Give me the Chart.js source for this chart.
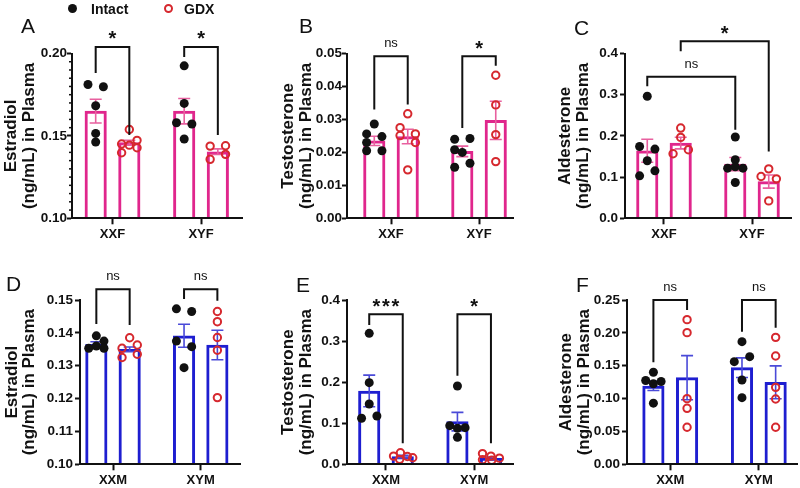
<!DOCTYPE html>
<html>
<head>
<meta charset="utf-8">
<script src="https://cdn.jsdelivr.net/npm/chart.js@4.4.1/dist/chart.umd.min.js"></script>
<style>
  body { margin: 0; background: #fff; }
  #wrap { position: relative; width: 800px; height: 488px; overflow: hidden; font-family: "Liberation Sans", Arial, sans-serif; color: #111; }
  canvas { position: absolute; }
  .letter { position: absolute; font-size: 21px; line-height: 21px; }
  .leg { position: absolute; font-size: 14px; line-height: 14px; font-weight: bold; }
  .mark { position: absolute; width: 9px; height: 9px; border-radius: 50%; box-sizing: border-box; }
</style>
</head>
<body>
<div id="wrap">
  <canvas id="cA" width="265" height="244"></canvas>
  <canvas id="cB" width="265" height="244"></canvas>
  <canvas id="cC" width="270" height="244"></canvas>
  <canvas id="cD" width="265" height="244"></canvas>
  <canvas id="cE" width="265" height="244"></canvas>
  <canvas id="cF" width="270" height="244"></canvas>

  <div class="mark" style="left:68px;top:4px;background:#111"></div>
  <div class="leg" style="left:91px;top:2px">Intact</div>
  <div class="mark" style="left:164px;top:4px;border:2px solid #d6282e"></div>
  <div class="leg" style="left:184px;top:2px">GDX</div>

  <div class="letter" style="left:21px;top:15px">A</div>
  <div class="letter" style="left:299px;top:15px">B</div>
  <div class="letter" style="left:574px;top:17px">C</div>
  <div class="letter" style="left:6px;top:273px">D</div>
  <div class="letter" style="left:296px;top:274px">E</div>
  <div class="letter" style="left:576px;top:274px">F</div>
</div>

<script>
Chart.defaults.font.family = "'Liberation Sans', Arial, Helvetica, sans-serif";
Chart.defaults.color = '#111';

// groups on the x axis
var femaleGroups = ['XXF', 'XYF'];
var maleGroups = ['XXM', 'XYM'];

// A - estradiol, females. [group][point]; slot = beeswarm column of each point
var aIntact = [[0.1812, 0.1798, 0.1683, 0.1515, 0.1463], [0.1925, 0.1697, 0.1580, 0.1572, 0.1481]];
var aIntactSlot = [[-1, 1, 0, 0, 0], [0, 0, -1, 1, 0]];
var aGdx = [[0.1539, 0.1451, 0.1444, 0.1473, 0.1398, 0.1428], [0.1438, 0.1440, 0.1358, 0.1388]];
var aGdxSlot = [[0, -1, 0, 1, -1, 1], [-1, 1, -1, 1]];
var aMean = [[0.1650, 0.1459], [0.1650, 0.1404]];   // [group][intact, gdx]
var aSem = [[0.0072, 0.0015], [0.0077, 0.0017]];
var aTicks = [0.10, 0.15, 0.20];
// [group, series, group, series, leg from, leg to, top, label]
var aSig = [[0, 0, 0, 1, 0.1882, 0.1505, 0.2040, '*'], [1, 0, 1, 1, 0.1979, 0.1505, 0.2040, '*']];

// B - testosterone, females
var bIntact = [[0.0286, 0.0256, 0.0248, 0.0230, 0.0205, 0.0205], [0.0242, 0.0240, 0.0208, 0.0200, 0.0167, 0.0155]];
var bIntactSlot = [[0, -1, 1, -1, -1, 1], [1, -1, -1, 0, 1, -1]];
var bGdx = [[0.0317, 0.0275, 0.0256, 0.0251, 0.0230, 0.0147], [0.0434, 0.0344, 0.0254, 0.0172]];
var bGdxSlot = [[0, -1, 1, -1, 1, 0], [0, 0, 0, 0]];
var bMean = [[0.0235, 0.0248], [0.0203, 0.0297]];
var bSem = [[0.0014, 0.0022], [0.0016, 0.0058]];
var bTicks = [0, 0.01, 0.02, 0.03, 0.04, 0.05];
var bSig = [[0, 0, 0, 1, 0.0330, 0.0345, 0.0492, 'ns'], [1, 0, 1, 1, 0.0274, 0.0463, 0.0492, '*']];

// C - aldosterone, females
var cIntact = [[0.2961, 0.1744, 0.1680, 0.1396, 0.1152, 0.1030], [0.1972, 0.1420, 0.1217, 0.1250, 0.1217, 0.0868]];
var cIntactSlot = [[0, -1, 1, 0, 1, -1], [0, 0, -1, 0, 1, 0]];
var cGdx = [[0.2190, 0.1963, 0.1566, 0.1663], [0.1200, 0.1014, 0.0957, 0.0422]];
var cGdxSlot = [[0, 0, -1, 1], [0, -1, 1, 0]];
var cMean = [[0.1639, 0.1826], [0.1314, 0.0892]];
var cSem = [[0.028, 0.014], [0.016, 0.016]];
var cTicks = [0, 0.1, 0.2, 0.3, 0.4];
var cSig = [[0, 0, 1, 0, 0.3204, 0.2150, 0.3433, 'ns'], [0, 1, 1, 1, 0.4056, 0.1622, 0.4300, '*']];

// D - estradiol, males
var dIntact = [[0.1391, 0.1375, 0.1360, 0.1353, 0.1353], [0.1473, 0.1465, 0.1375, 0.1358, 0.1294]];
var dIntactSlot = [[0, 1, 0, -1, 1], [-1, 1, -1, 1, 0]];
var dGdx = [[0.1385, 0.1363, 0.1353, 0.1335, 0.1325], [0.1465, 0.1434, 0.1386, 0.1347, 0.1203]];
var dGdxSlot = [[0, 1, -1, 1, -1], [0, 0, 0, 0, 0]];
var dMean = [[0.1365, 0.1350], [0.1391, 0.1363]];
var dSem = [[0.0008, 0.0007], [0.0035, 0.0045]];
var dTicks = [0.10, 0.11, 0.12, 0.13, 0.14, 0.15];
var dSig = [[0, 0, 0, 1, 0.1427, 0.1424, 0.1533, 'ns'], [1, 0, 1, 1, 0.1503, 0.1498, 0.1533, 'ns']];

// E - testosterone, males
var eIntact = [[0.3189, 0.1988, 0.1469, 0.1176, 0.1120], [0.1907, 0.0941, 0.0892, 0.0876, 0.0657]];
var eIntactSlot = [[0, 0, 0, 1, -1], [0, -1, 1, 0, 0]];
var eGdx = [[0.028, 0.020, 0.019, 0.016, 0.012], [0.026, 0.020, 0.015, 0.011, 0.010]];
var eGdxSlot = [[-0.3, -1.2, 0.6, 1.3, -0.4], [-1.1, 0, 1.1, -1.1, 0.1]];
var eMean = [[0.1785, 0.0187], [0.1039, 0.0146]];
var eSem = [[0.0385, 0.003], [0.0225, 0.003]];
var eTicks = [0, 0.1, 0.2, 0.3, 0.4];
var eSig = [[0, 0, 0, 1, 0.3391, 0.0511, 0.3652, '***'], [1, 0, 1, 1, 0.2157, 0.0511, 0.3652, '*']];

// F - aldosterone, males
var fIntact = [[0.1400, 0.1275, 0.1260, 0.1225, 0.0930], [0.1866, 0.1638, 0.1562, 0.1283, 0.1014]];
var fIntactSlot = [[0, -1, 1, 0, 0], [0, 1, -1, 0, 0]];
var fGdx = [[0.2201, 0.2003, 0.0999, 0.0852, 0.0563], [0.1932, 0.1648, 0.1171, 0.0994, 0.0563]];
var fGdxSlot = [[0, 0, 0, 0, 0], [0, 0, 0, 0, 0]];
var fMean = [[0.1192, 0.1318], [0.1470, 0.1247]];
var fSem = [[0.007, 0.0335], [0.015, 0.025]];
var fTicks = [0, 0.05, 0.10, 0.15, 0.20, 0.25];
var fSig = [[0, 0, 0, 1, 0.1552, 0.2348, 0.25, 'ns'], [1, 0, 1, 1, 0.2018, 0.2079, 0.25, 'ns']];

var PINK = '#e0268c', PINK_ERR = '#e8609f';
var BLUE = '#1e1ed0', BLUE_ERR = '#4a4ad8';
var RED = '#d6282e', INK = '#111';
var OFF = 0.19;    // bar centre offset from the group tick, x units
var SLOT = 0.087;  // width of one beeswarm column, x units

function points(vals, slots, side) {
  var out = [];
  vals.forEach(function (list, g) {
    list.forEach(function (v, k) {
      out.push({ x: g + 1 + side * OFF + slots[g][k] * SLOT, y: v });
    });
  });
  return out;
}

function decor(p) {
  return {
    id: 'decor',
    afterDatasetDraw: function (chart, args) {
      if (args.meta.type !== 'bar') return;
      var s = chart.data.datasets[args.index].series;
      var ctx = chart.ctx, y = chart.scales.y;
      ctx.save();
      ctx.strokeStyle = p.errColor;
      ctx.lineWidth = 1.6;
      args.meta.data.forEach(function (bar, g) {
        var m = p.mean[g][s], e = p.sem[g][s];
        var y1 = y.getPixelForValue(m + e), y0 = y.getPixelForValue(m - e);
        ctx.beginPath();
        ctx.moveTo(bar.x, y0); ctx.lineTo(bar.x, y1);
        ctx.moveTo(bar.x - 6, y1); ctx.lineTo(bar.x + 6, y1);
        ctx.moveTo(bar.x - 6, y0); ctx.lineTo(bar.x + 6, y0);
        ctx.stroke();
      });
      ctx.restore();
    },
    afterDraw: function (chart) {
      var ctx = chart.ctx, x = chart.scales.x, y = chart.scales.y, area = chart.chartArea;
      ctx.save();
      ctx.strokeStyle = INK;
      if (p.minor) {
        ctx.lineWidth = 1.5;
        for (var v = p.yMin + p.minor; v < p.yMax - 1e-9; v += p.minor) {
          var major = p.ticks.some(function (t) { return Math.abs(t - v) < 1e-9; });
          if (major) continue;
          var py = y.getPixelForValue(v);
          ctx.beginPath(); ctx.moveTo(area.left - 3, py); ctx.lineTo(area.left, py); ctx.stroke();
        }
      }
      ctx.lineWidth = 2;
      ctx.fillStyle = INK;
      ctx.textAlign = 'center';
      ctx.textBaseline = 'alphabetic';
      p.sig.forEach(function (b) {
        var xa = x.getPixelForValue(b[0] + 1 + (b[1] ? OFF : -OFF));
        var xb = x.getPixelForValue(b[2] + 1 + (b[3] ? OFF : -OFF));
        var yt = y.getPixelForValue(b[6]);
        ctx.beginPath();
        ctx.moveTo(xa, y.getPixelForValue(b[4]));
        ctx.lineTo(xa, yt);
        ctx.lineTo(xb, yt);
        ctx.lineTo(xb, y.getPixelForValue(b[5]));
        ctx.stroke();
        var cx = (xa + xb) / 2;
        if (b[7].charAt(0) === '*') {
          ctx.font = "bold 20px 'Liberation Sans', Arial, sans-serif";
          var n = b[7].length, step = 9.5;
          for (var i = 0; i < n; i++) ctx.fillText('*', cx + (i - (n - 1) / 2) * step, yt - 1.5);
        } else {
          ctx.font = "13px 'Liberation Sans', Arial, sans-serif";
          ctx.fillText(b[7], cx, yt - 9);
        }
      });
      ctx.restore();
    }
  };
}

function panel(id, p) {
  var box = p.box, area = p.area;
  var cv = document.getElementById(id);
  cv.style.left = box[0] + 'px';
  cv.style.top = box[1] + 'px';
  var barI = p.mean.map(function (m, g) { return { x: g + 1 - OFF, y: m[0] }; });
  var barG = p.mean.map(function (m, g) { return { x: g + 1 + OFF, y: m[1] }; });
  var barStyle = { backgroundColor: '#fff', borderColor: p.color, borderWidth: 3, barThickness: 21.5,
                   base: p.yMin, grouped: false, borderSkipped: 'start', order: 5, clip: false };

  return new Chart(cv, {
    type: 'bar',
    data: {
      datasets: [
        Object.assign({ data: barI, series: 0 }, barStyle),
        Object.assign({ data: barG, series: 1 }, barStyle),
        { type: 'scatter', data: points(p.intact, p.intactSlot, -1), order: 1, clip: false,
          pointRadius: 4.5, pointBackgroundColor: INK, pointBorderWidth: 0 },
        { type: 'scatter', data: points(p.gdx, p.gdxSlot, 1), order: 0, clip: false,
          pointRadius: 3.7, pointBackgroundColor: 'rgba(255,255,255,0)', pointBorderColor: RED, pointBorderWidth: 2 }
      ]
    },
    options: {
      responsive: false,
      animation: false,
      events: [],
      layout: {
        autoPadding: false,
        padding: { left: 0, top: area[2] - box[1], right: box[0] + box[2] - area[1], bottom: 0 }
      },
      plugins: { legend: { display: false }, tooltip: { enabled: false } },
      scales: {
        x: {
          type: 'linear', min: p.xr[0], max: p.xr[1], offset: false,
          afterBuildTicks: function (s) { s.ticks = p.cats.map(function (c, i) { return { value: i + 1 }; }); },
          afterFit: function (s) { s.height = box[1] + box[3] - area[3]; },
          ticks: { callback: function (v, i) { return p.cats[i]; }, autoSkip: false, maxRotation: 0, padding: 2,
                   color: INK, font: { size: 13, weight: 'bold' } },
          grid: { drawOnChartArea: false, offset: false, tickLength: 6, tickWidth: 2, tickColor: INK },
          border: { color: INK, width: 2, z: 1 }
        },
        y: {
          type: 'linear', min: p.yMin, max: p.yMax,
          afterBuildTicks: function (s) { s.ticks = p.ticks.map(function (v) { return { value: v }; }); },
          afterFit: function (s) { s.width = area[0] - box[0]; },
          ticks: { callback: function (v) { return v.toFixed(p.dec); }, padding: p.gap - 5,
                   color: INK, font: { size: 13.5, weight: 'bold' } },
          grid: { drawOnChartArea: false, tickLength: 5, tickWidth: 2, tickColor: INK },
          border: { color: INK, width: 2, z: 1 },
          title: { display: true, text: p.title, color: INK, padding: { top: p.titlePad, bottom: 0 },
                   font: { size: 17, weight: 'bold', lineHeight: 1.02 } }
        }
      }
    },
    plugins: [decor(p)]
  });
}

var pinkBars = { color: PINK, errColor: PINK_ERR };
var blueBars = { color: BLUE, errColor: BLUE_ERR };

panel('cA', Object.assign({
  box: [0, 0, 265, 244], area: [72, 242, 53.5, 218.3], xr: [0.5424, 2.463],
  yMin: 0.10, yMax: 0.20, ticks: aTicks, dec: 2, gap: 5, minor: 0.005,
  title: ['Estradiol', '(ng/mL) in Plasma'], titlePad: 3, cats: femaleGroups,
  intact: aIntact, intactSlot: aIntactSlot, gdx: aGdx, gdxSlot: aGdxSlot, mean: aMean, sem: aSem, sig: aSig
}, pinkBars));

panel('cB', Object.assign({
  box: [265, 0, 265, 244], area: [347, 513, 53.5, 218.3], xr: [0.5, 2.386],
  yMin: 0, yMax: 0.05, ticks: bTicks, dec: 2, gap: 5,
  title: ['Testosterone', '(ng/mL) in Plasma'], titlePad: 15, cats: femaleGroups,
  intact: bIntact, intactSlot: bIntactSlot, gdx: bGdx, gdxSlot: bGdxSlot, mean: bMean, sem: bSem, sig: bSig
}, pinkBars));

panel('cC', Object.assign({
  box: [530, 0, 270, 244], area: [625, 791, 53.5, 218.3], xr: [0.557, 2.443],
  yMin: 0, yMax: 0.4, ticks: cTicks, dec: 1, gap: 7,
  title: ['Aldesterone', '(ng/mL) in Plasma'], titlePad: 27, cats: femaleGroups,
  intact: cIntact, intactSlot: cIntactSlot, gdx: cGdx, gdxSlot: cGdxSlot, mean: cMean, sem: cSem, sig: cSig
}, pinkBars));

panel('cD', Object.assign({
  box: [0, 244, 265, 244], area: [80, 240, 300, 464.3], xr: [0.6237, 2.448],
  yMin: 0.10, yMax: 0.15, ticks: dTicks, dec: 2, gap: 7,
  title: ['Estradiol', '(ng/mL) in Plasma'], titlePad: 3.5, cats: maleGroups,
  intact: dIntact, intactSlot: dIntactSlot, gdx: dGdx, gdxSlot: dGdxSlot, mean: dMean, sem: dSem, sig: dSig
}, blueBars));

panel('cE', Object.assign({
  box: [265, 244, 265, 244], area: [347, 513, 300, 464.3], xr: [0.558, 2.44],
  yMin: 0, yMax: 0.4, ticks: eTicks, dec: 1, gap: 7,
  title: ['Testosterone', '(ng/mL) in Plasma'], titlePad: 15, cats: maleGroups,
  intact: eIntact, intactSlot: eIntactSlot, gdx: eGdx, gdxSlot: eGdxSlot, mean: eMean, sem: eSem, sig: eSig
}, blueBars));

panel('cF', Object.assign({
  box: [530, 244, 270, 244], area: [627, 797, 300, 464.3], xr: [0.512, 2.431],
  yMin: 0, yMax: 0.25, ticks: fTicks, dec: 2, gap: 7,
  title: ['Aldesterone', '(ng/mL) in Plasma'], titlePad: 28, cats: maleGroups,
  intact: fIntact, intactSlot: fIntactSlot, gdx: fGdx, gdxSlot: fGdxSlot, mean: fMean, sem: fSem, sig: fSig
}, blueBars));
</script>
</body>
</html>
